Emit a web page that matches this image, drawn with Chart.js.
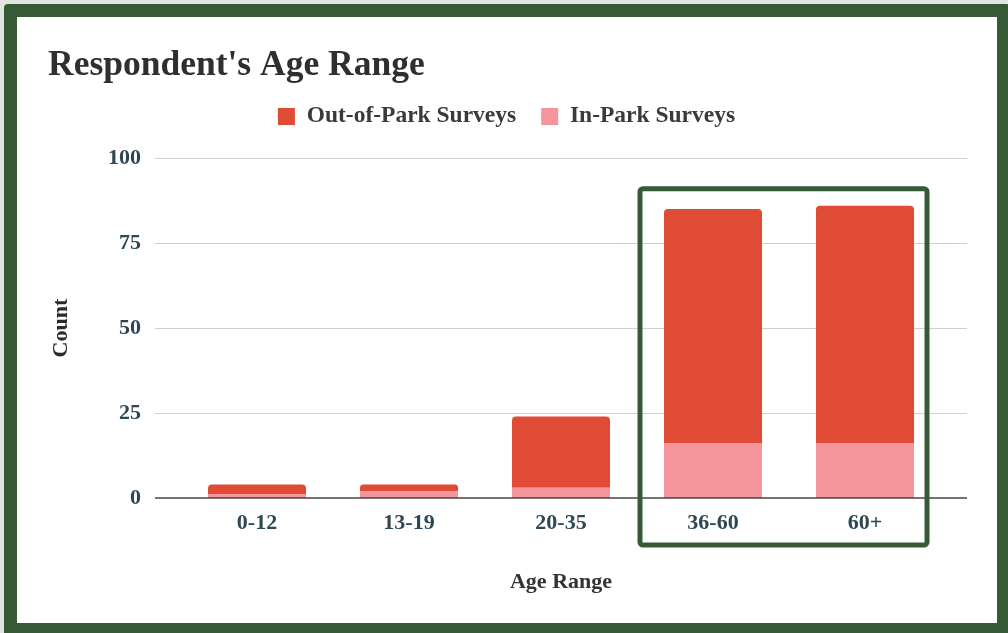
<!DOCTYPE html>
<html>
<head>
<meta charset="utf-8">
<script src="https://cdn.jsdelivr.net/npm/chart.js@4"></script>
<style>
  html, body { margin: 0; padding: 0; background: #dfe6df; overflow: hidden; }
  #wrap { position: relative; width: 1008px; height: 633px; }
  #rahmen {
    position: absolute; left: 4px; top: 4px; right: -2px; bottom: -3px;
    border: 13px solid #375a36; border-radius: 4px; background: #fff;
  }
  #chart { position: absolute; left: 0; top: 0; }
</style>
</head>
<body>
<div id="wrap">
  <div id="rahmen"></div>
  <canvas id="chart" width="1008" height="633"></canvas>
</div>
<script>
// --- Daten ---
const altersGruppen = ['0-12', '13-19', '20-35', '36-60', '60+'];
const ausserhalbPark = [3, 2, 21, 69, 70];   // Out-of-Park Surveys
const imPark = [1, 2, 3, 16, 16];            // In-Park Surveys
const yTicks = [0, 25, 50, 75, 100];

const SCHRIFT = "'Liberation Serif', 'Times New Roman', serif";
const FARBE_ROT = '#e04b36';
const FARBE_ROSA = '#f4959b';
const FARBE_RAHMEN = '#375a36';

// Legende: etwas mehr Abstand nach unten und leicht nach rechts versetzt
const legendePlugin = {
  id: 'legendeAbstand',
  beforeUpdate(chart) {
    const lg = chart.legend;
    if (lg && !lg._gepatcht) {
      const origFit = lg.fit;
      lg.fit = function () {
        origFit.call(this);
        this.height += 20;
      };
      lg._gepatcht = true;
    }
  },
  afterLayout(chart) {
    if (chart.legend) {
      chart.legend.left += 12;
      chart.legend.right += 12;
    }
  },
};

// Gitterlinien und Nulllinie etwas breiter als die Plotfläche zeichnen
const gitterPlugin = {
  id: 'gitter',
  beforeDatasetsDraw(chart) {
    const { ctx, chartArea, scales } = chart;
    ctx.save();
    ctx.strokeStyle = '#cfcfcf';
    ctx.lineWidth = 1;
    scales.y.ticks.forEach(t => {
      if (t.value === 0) return;
      const y = Math.round(scales.y.getPixelForValue(t.value)) + 0.5;
      ctx.beginPath();
      ctx.moveTo(chartArea.left - 26, y);
      ctx.lineTo(chartArea.right + 26, y);
      ctx.stroke();
    });
    ctx.restore();
  },
  afterDatasetsDraw(chart) {
    const { ctx, chartArea, scales } = chart;
    const y = scales.y.getPixelForValue(0);
    ctx.save();
    ctx.strokeStyle = '#444';
    ctx.lineWidth = 1.5;
    ctx.beginPath();
    ctx.moveTo(chartArea.left - 26, y);
    ctx.lineTo(chartArea.right + 26, y);
    ctx.stroke();
    ctx.restore();
  },
};

// Grüne Markierung um die beiden letzten Altersgruppen
const markierungPlugin = {
  id: 'markierung',
  afterDraw(chart) {
    const { ctx, chartArea, scales } = chart;
    const links = scales.x.getPixelForValue(3) - 73;
    const rechts = scales.x.getPixelForValue(4) + 62;
    const oben = scales.y.getPixelForValue(91);
    const unten = chartArea.bottom + 47;
    ctx.save();
    ctx.strokeStyle = FARBE_RAHMEN;
    ctx.lineWidth = 5;
    ctx.beginPath();
    ctx.roundRect(links, oben, rechts - links, unten - oben, 3);
    ctx.stroke();
    ctx.restore();
  },
};

new Chart(document.getElementById('chart'), {
  type: 'bar',
  data: {
    labels: altersGruppen,
    datasets: [
      {
        label: 'In-Park Surveys',
        data: imPark,
        backgroundColor: FARBE_ROSA,
        borderWidth: 0,
        borderRadius: 4,
        borderSkipped: 'start',
      },
      {
        label: 'Out-of-Park Surveys',
        data: ausserhalbPark,
        backgroundColor: FARBE_ROT,
        borderWidth: 0,
        borderRadius: 4,
        borderSkipped: 'start',
      },
    ],
  },
  options: {
    responsive: false,
    animation: false,
    layout: { padding: { left: 48, right: 67, top: 40, bottom: 0 } },
    datasets: { bar: { categoryPercentage: 1, barPercentage: 0.645 } },
    plugins: {
      title: {
        display: true,
        text: "Respondent's Age Range",
        align: 'start',
        color: '#2f2f2f',
        font: { family: SCHRIFT, size: 35.5, weight: 'bold', lineHeight: 0.75 },
        padding: { top: 13, bottom: 0 },
      },
      legend: {
        reverse: true,
        labels: {
          color: '#3a3a3a',
          boxWidth: 17,
          boxHeight: 17,
          padding: 25,
          font: { family: SCHRIFT, size: 23.5, weight: 'bold' },
        },
      },
      tooltip: { enabled: false },
    },
    scales: {
      x: {
        stacked: true,
        grid: { display: false, drawTicks: false },
        border: { display: false },
        ticks: {
          color: '#2e4755',
          padding: 12,
          font: { family: SCHRIFT, size: 22, weight: 'bold' },
        },
        title: {
          display: true,
          text: 'Age Range',
          color: '#333',
          font: { family: SCHRIFT, size: 22, weight: 'bold' },
          padding: { top: 0, bottom: 37 },
        },
        afterFit: (scale) => { scale.height = 135; },
      },
      y: {
        stacked: true,
        min: 0,
        max: 100,
        afterBuildTicks: (scale) => { scale.ticks = yTicks.map(v => ({ value: v })); },
        grid: { display: false, drawTicks: false },
        border: { display: false },
        ticks: {
          color: '#2e4755',
          padding: 40,
          font: { family: SCHRIFT, size: 22, weight: 'bold' },
        },
        title: {
          display: true,
          text: 'Count',
          color: '#2b2b2b',
          font: { family: SCHRIFT, size: 22, weight: 'bold' },
          padding: 0,
        },
        afterFit: (scale) => { scale.width = 133; },
      },
    },
  },
  plugins: [legendePlugin, gitterPlugin, markierungPlugin],
});
</script>
</body>
</html>
